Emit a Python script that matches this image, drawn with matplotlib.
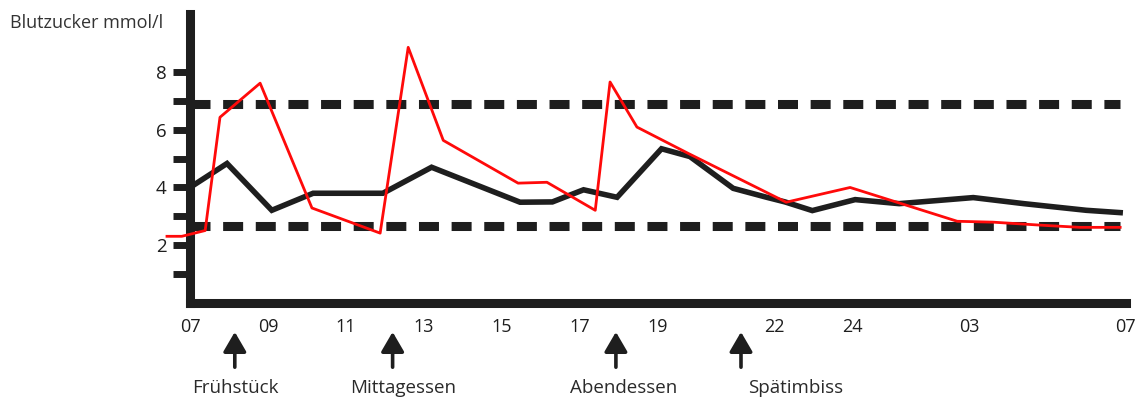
import matplotlib
matplotlib.use('Agg')
import matplotlib.pyplot as plt

plt.rcParams['font.family'] = ['Open Sans', 'DejaVu Sans']
plt.rcParams['lines.scale_dashes'] = False

# hours after 07:00
tick_hours = [0, 2, 4, 6, 8, 10, 12, 15, 17, 20, 24]
tick_labels = ['07', '09', '11', '13', '15', '17', '19', '22', '24', '03', '07']

y_ticks = [1, 2, 3, 4, 5, 6, 7, 8]
y_labels = ['', '2', '', '4', '', '6', '', '8']

# normal profile (black)
black_h = [0, 0.95, 2.1, 3.16, 4.95, 6.2, 8.47, 9.3, 10.1, 10.96, 12.1, 12.83,
           13.94, 14.8, 15.27, 15.97, 17.07, 18.2, 20.1, 21.4, 23.0, 23.87]
black_v = [4.0, 4.83, 3.21, 3.8, 3.8, 4.7, 3.49, 3.5, 3.92, 3.66, 5.34, 5.07,
           3.97, 3.66, 3.5, 3.2, 3.58, 3.44, 3.65, 3.44, 3.21, 3.13]

# measured profile (red)
red_h = [-0.59, -0.21, 0.39, 0.77, 1.8, 3.13, 4.88, 5.6, 6.5, 8.42, 9.16, 10.4,
         10.78, 11.47, 12.8, 15.3, 16.94, 19.69, 20.6, 21.9, 22.84, 23.87]
red_v = [2.31, 2.31, 2.51, 6.43, 7.61, 3.29, 2.42, 8.85, 5.63, 4.15, 4.18, 3.21,
         7.65, 6.09, 5.17, 3.49, 4.0, 2.83, 2.8, 2.69, 2.62, 2.62]

upper_limit = 6.9
lower_limit = 2.66

meals = ['Frühstück', 'Mittagessen', 'Abendessen', 'Spätimbiss']
meal_hours = [1.15, 5.2, 10.93, 14.14]
meal_text_x = [1.16, 5.47, 11.14, 15.55]

ink = '#1e1e1e'

fig = plt.figure(figsize=(11.41, 4.03), dpi=100)
ax = fig.add_axes([0.1443, 0.248, 0.847, 0.717])

ax.plot([0, 23.87], [upper_limit] * 2, color=ink, lw=6.5, dashes=(14.4, 9.1), zorder=1)
ax.plot([0, 23.87], [lower_limit] * 2, color=ink, lw=6.5, dashes=(14.4, 9.1), zorder=1)
ax.plot(black_h, black_v, color=ink, lw=4, solid_joinstyle='miter', zorder=2)
ax.plot(red_h, red_v, color='#ff0a0a', lw=2, zorder=3, clip_on=False)

ax.set_xlim(-0.65, 24.15)
ax.set_ylim(0, 10)
for s in ['top', 'right']:
    ax.spines[s].set_visible(False)
ax.spines['left'].set_position(('data', 0))
ax.spines['bottom'].set_bounds(0, 24.02)
for s in ['left', 'bottom']:
    ax.spines[s].set_linewidth(6.5)
    ax.spines[s].set_color(ink)
    ax.spines[s].set_capstyle('projecting')

ax.set_xticks(tick_hours)
ax.set_xticklabels(tick_labels)
ax.set_yticks(y_ticks)
ax.set_yticklabels(y_labels)
ax.tick_params(axis='x', length=0, pad=11, labelsize=13, labelcolor=ink)
ax.tick_params(axis='y', length=12, width=5, color=ink, pad=5, labelsize=13.5, labelcolor=ink)

fig.text(10 / 1141, 1 - 23 / 403, 'Blutzucker mmol/l', fontsize=13, color='#333333',
         ha='left', va='center')

for name, h, tx in zip(meals, meal_hours, meal_text_x):
    ax.annotate('', xy=(h, -0.100), xytext=(h, -0.222),
                xycoords=('data', 'axes fraction'), textcoords=('data', 'axes fraction'),
                arrowprops=dict(arrowstyle='-|>,head_length=0.6,head_width=0.35',
                                mutation_scale=20, lw=2.6, color=ink,
                                shrinkA=0, shrinkB=0), annotation_clip=False)
    ax.text(tx, -0.294, name, transform=ax.get_xaxis_transform(), ha='center',
            va='center', fontsize=13.5, color='#2a2a2a')

fig.savefig('out.png', dpi=100)
